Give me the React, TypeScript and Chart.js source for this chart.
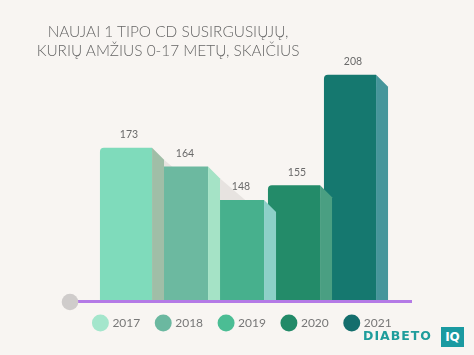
import { useEffect, useRef } from "react";
import { Chart, registerables } from "chart.js";

Chart.register(...registerables);

const categories = ["2017", "2018", "2019", "2020", "2021"];
const cases = [173, 164, 148, 155, 208];
const yMin = 100;
const yMax = 240;
const titleLines = ["NAUJAI 1 TIPO CD SUSIRGUSIŲJŲ,", "KURIŲ AMŽIUS 0-17 METŲ, SKAIČIUS"];

const frontColors = ["#7fdbbb", "#6cb9a0", "#47b08d", "#238b69", "#15786f"];
const sideColors = ["#a0bea7", "#a5e3c6", "#8dd0c8", "#4a9f82", "#46969b"];
const legendColors = ["#a4e6cc", "#6bb8a0", "#4bbd94", "#228a68", "#146e6d"];

const SIDE = 12;

const bar3dPlugin = {
  id: "bar3d",
  beforeDatasetsDraw(chart: any) {
    const meta = chart.getDatasetMeta(0);
    const ctx = chart.ctx;
    const { top, bottom } = chart.chartArea;
    ctx.save();
    ctx.fillStyle = "#e7e3e0";
    meta.data.forEach((bar: any, i: number) => {
      if (i >= meta.data.length - 1) return;
      const p = bar.getProps(["x", "y", "width"], true);
      const sx = p.x + p.width / 2 + SIDE;
      const sy = p.y + SIDE;
      const n = meta.data[i + 1].getProps(["x", "width"], true);
      const limit = n.x + n.width / 2;
      ctx.save();
      ctx.beginPath();
      ctx.rect(sx, top, limit - sx, bottom - top);
      ctx.clip();
      ctx.beginPath();
      ctx.moveTo(sx, sy);
      ctx.lineTo(sx + (bottom - sy) / 0.85, bottom);
      ctx.lineTo(sx, bottom);
      ctx.closePath();
      ctx.fill();
      ctx.restore();
    });
    ctx.restore();
  },
  afterDatasetsDraw(chart: any) {
    const meta = chart.getDatasetMeta(0);
    const ctx = chart.ctx;
    const { left, right, bottom } = chart.chartArea;
    ctx.save();
    meta.data.forEach((bar: any, i: number) => {
      const p = bar.getProps(["x", "y", "width"], true);
      const r = p.x + p.width / 2;
      ctx.fillStyle = sideColors[i];
      ctx.beginPath();
      ctx.moveTo(r, p.y);
      ctx.lineTo(r + SIDE, p.y + SIDE);
      ctx.lineTo(r + SIDE, bottom);
      ctx.lineTo(r, bottom);
      ctx.closePath();
      ctx.fill();
    });
    // baseline
    ctx.strokeStyle = "#b47ae6";
    ctx.lineWidth = 3;
    ctx.beginPath();
    ctx.moveTo(left - 28, bottom + 1.5);
    ctx.lineTo(right + 34, bottom + 1.5);
    ctx.stroke();
    ctx.fillStyle = "#cfcccb";
    ctx.beginPath();
    ctx.arc(left - 28, bottom + 2, 8.3, 0, Math.PI * 2);
    ctx.fill();
    // value labels
    ctx.fillStyle = "#6a6a6a";
    ctx.font = "10.5px Lato";
    ctx.textAlign = "center";
    ctx.textBaseline = "middle";
    meta.data.forEach((bar: any, i: number) => {
      const p = bar.getProps(["x", "y"], true);
      ctx.fillText(String(cases[i]), p.x + 3, p.y - 13);
    });
    ctx.restore();
  },
};

export default function App() {
  const canvasRef = useRef<HTMLCanvasElement | null>(null);

  useEffect(() => {
    if (!canvasRef.current) return;
    const chart = new Chart(canvasRef.current, {
      type: "bar",
      data: {
        labels: categories,
        datasets: [
          {
            data: cases,
            backgroundColor: frontColors,
            borderWidth: 0,
            borderRadius: { topLeft: 4, topRight: 0, bottomLeft: 0, bottomRight: 0 },
            borderSkipped: false,
            categoryPercentage: 1,
            barPercentage: 0.93,
          },
        ],
      },
      options: {
        responsive: false,
        animation: false,
        layout: { padding: { top: 8, bottom: 16, left: 12, right: 0 } },
        scales: {
          x: { display: false },
          y: {
            display: true,
            position: "left",
            min: yMin,
            max: yMax,
            grid: { display: false },
            border: { display: false },
            ticks: { display: false },
            afterFit: (s: any) => {
              s.width = 86;
            },
          },
          yR: {
            display: true,
            position: "right",
            min: 0,
            max: 1,
            grid: { display: false },
            border: { display: false },
            ticks: { display: false },
            afterFit: (s: any) => {
              s.width = 96;
            },
          },
        },
        plugins: {
          tooltip: { enabled: false },
          title: { display: false },
          legend: {
            display: true,
            position: "bottom",
            labels: {
              usePointStyle: true,
              boxWidth: 12,
              boxHeight: 12,
              padding: 17,
              color: "#777777",
              font: { family: "Lato", size: 12 },
              generateLabels: () =>
                categories.map((c, i) => ({
                  text: c,
                  fillStyle: legendColors[i],
                  strokeStyle: legendColors[i],
                  lineWidth: 0,
                  pointStyle: "circle",
                  hidden: false,
                  index: i,
                  fontColor: "#777777",
                })),
            },
          },
        },
      } as any,
      plugins: [bar3dPlugin],
    });
    return () => chart.destroy();
  }, []);

  return (
    <div
      style={{
        position: "fixed",
        left: 0,
        top: 0,
        width: 474,
        height: 355,
        background: "#f8f5f2",
        overflow: "hidden",
      }}
    >
      <canvas ref={canvasRef} width={474} height={355} style={{ position: "absolute", left: 0, top: 0 }} />
      <div
        style={{
          position: "absolute",
          left: 0,
          top: 21.5,
          width: 336,
          textAlign: "center",
          fontFamily: "Lato",
          fontWeight: 300,
          fontSize: 15.4,
          lineHeight: "19.5px",
          color: "#666666",
          whiteSpace: "nowrap",
        }}
      >
        {titleLines.map((t) => (
          <div key={t}>{t}</div>
        ))}
      </div>
      <div
        style={{
          position: "absolute",
          left: 363,
          top: 330,
          fontFamily: "DejaVu Sans",
          fontWeight: 700,
          fontSize: 12.5,
          lineHeight: "12.5px",
          letterSpacing: 1,
          color: "#1f9d9c",
          whiteSpace: "nowrap",
        }}
      >
        DIABETO
      </div>
      <div
        style={{
          position: "absolute",
          left: 441,
          top: 327,
          width: 23,
          height: 20,
          background: "#1a9aa1",
          color: "#ffffff",
          fontFamily: "DejaVu Sans",
          fontWeight: 700,
          fontSize: 12,
          lineHeight: "20px",
          textAlign: "center",
        }}
      >
        IQ
      </div>
    </div>
  );
}
